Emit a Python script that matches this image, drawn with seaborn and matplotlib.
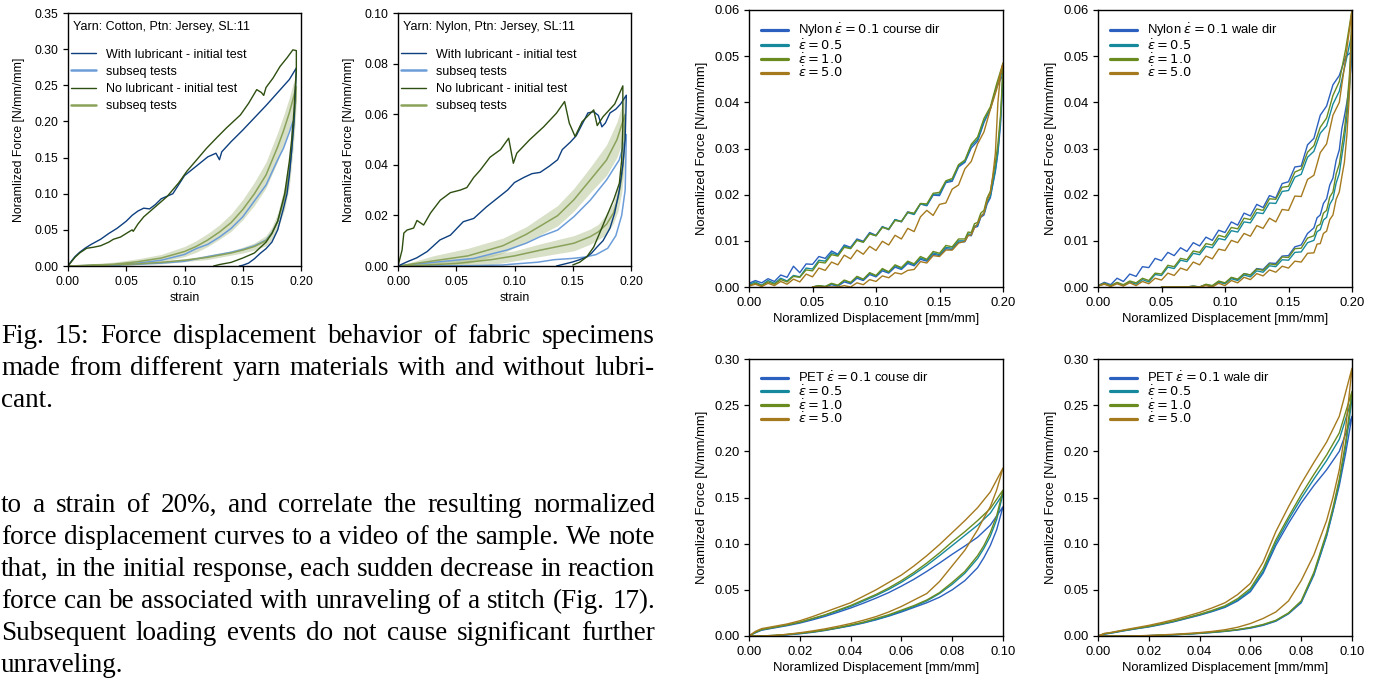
import seaborn as sns
import matplotlib
import matplotlib.pyplot as plt

matplotlib.use('Agg')

# ---------------- data ----------------
# Fig. 15 left: cotton jersey, loops (load then unload)
cot_lub_init_x = [0, .003, .006, .01, .015, .02, .028, .035, .042, .05, .055, .06, .065, .07, .075, .08, .09, .1, .11, .12,
                  .127, .13, .132, .14, .15, .16, .17, .18, .19, .196,
                  .194, .192, .19, .188, .185, .18, .175, .17, .165, .16, .155, .15, .147]
cot_lub_init_y = [0, .007, .013, .019, .025, .03, .037, .045, .052, .062, .07, .076, .08, .079, .085, .093, .1, .125, .138, .151,
                  .156, .147, .158, .172, .188, .205, .222, .24, .258, .274,
                  .2, .16, .125, .1, .08, .05, .033, .024, .0175, .01, .004, .001, 0]
cot_nolube_init_x = [0, .003, .006, .01, .016, .022, .028, .035, .039, .045, .05, .055, .056, .06, .065, .075, .085, .095, .102, .11,
                     .119, .128, .136, .148, .155, .162, .166, .168, .17, .176, .182, .188, .193, .196,
                     .196, .195, .194, .192, .19, .186, .18, .175, .17, .16, .15, .14, .13, .125]
cot_nolube_init_y = [0, .006, .012, .018, .0245, .026, .028, .033, .037, .04, .045, .05, .048, .058, .068, .082, .096, .115, .131, .146,
                     .163, .178, .191, .209, .225, .244, .24, .236, .247, .26, .276, .288, .299, .298,
                     .27, .245, .215, .175, .145, .1, .062, .045, .033, .018, .011, .005, .002, 0]
cot_lub_sub_x = [0, .02, .04, .06, .08, .1, .11, .12, .13, .14, .15, .16, .17, .18, .185, .19, .193,
                 .192, .19, .188, .185, .18, .175, .17, .16, .15, .14, .12, .1, .08, .06, .04, .02, 0]
cot_lub_sub_y = [0, .0005, .0015, .004, .008, .016, .024, .03, .04, .052, .068, .09, .112, .147, .163, .185, .2,
                 .16, .13, .11, .09, .062, .046, .036, .028, .023, .019, .013, .0065, .004, .0025, .0015, .0007, 0]
cot_sub_load_x = [0, .02, .04, .06, .08, .1, .11, .12, .13, .14, .15, .16, .17, .18, .185, .19, .193, .196]
cot_sub_load_y = [0, .001, .0025, .006, .011, .02, .027, .036, .047, .06, .078, .1, .126, .165, .187, .212, .23, .248]
cot_sub_load_sd = [0, .002, .003, .004, .005, .007, .008, .009, .01, .012, .014, .016, .018, .02, .021, .021, .021, .02]
cot_sub_unload_x = [.196, .195, .193, .19, .186, .18, .175, .17, .16, .15, .14, .12, .1, .08, .06, .04, .02, 0]
cot_sub_unload_y = [.248, .22, .18, .13, .095, .062, .045, .035, .027, .022, .018, .012, .008, .005, .003, .0018, .0008, 0]
cot_sub_unload_sd = [.02, .022, .022, .02, .016, .011, .009, .007, .005, .004, .003, .003, .002, .002, .001, .001, .001, 0]

# Fig. 15 middle: nylon jersey
nyl_lub_init_x = [0, .008, .016, .025, .036, .045, .056, .065, .076, .085, .094, .1, .108, .115, .122, .13, .137, .141, .148, .153,
                  .158, .163, .168, .172, .175, .178, .182, .187, .191, .196,
                  .195, .193, .19, .186, .182, .176, .171, .166, .162, .156, .15, .143, .136]
nyl_lub_init_y = [0, .0017, .0032, .0057, .0103, .0122, .0175, .0188, .0234, .0267, .03, .033, .035, .0365, .037, .0395, .042, .046, .049, .0515,
                  .056, .0605, .061, .0595, .055, .0565, .0605, .062, .064, .0675,
                  .05, .04, .03, .021, .015, .01, .0076, .005, .0036, .0025, .0016, .0008, 0]
nyl_nolube_init_x = [0, .0035, .005, .0077, .0134, .0163, .022, .028, .0363, .045, .0534, .0591, .065, .0706, .079, .088, .095, .099, .102, .113,
                     .125, .136, .143, .147, .152, .158, .168, .171, .176, .186, .193,
                     .193, .192, .19, .185, .179, .173, .168, .162, .156, .15]
nyl_nolube_init_y = [0, .0063, .013, .0142, .015, .018, .0162, .021, .026, .029, .03, .031, .035, .0379, .043, .046, .0505, .0406, .0446, .0499,
                     .055, .0604, .065, .0565, .0512, .057, .0617, .0555, .059, .064, .0712,
                     .055, .042, .0327, .026, .0195, .0129, .0075, .0036, .0015, .0004]
nyl_lub_sub_x = [0, .036, .065, .0935, .11, .122, .137, .151, .165, .179, .19, .196,
                 .195, .192, .187, .18, .17, .16, .15, .134, .12, .1, .09, .07, .05, .03, 0]
nyl_lub_sub_y = [0, .0017, .003, .0063, .009, .0116, .0142, .0195, .026, .034, .042, .052,
                 .03, .02, .012, .007, .0045, .0035, .003, .0025, .0015, .0008, .0004, .0002, .0001, 0, 0]
nyl_sub_load_x = [0, .03, .06, .09, .11, .1225, .137, .151, .165, .179, .188, .195]
nyl_sub_load_y = [0, .002, .004, .008, .0125, .0159, .0199, .0262, .034, .0419, .05, .06]
nyl_sub_load_sd = [0, .002, .003, .003, .003, .0035, .004, .0045, .005, .006, .007, .008]
nyl_sub_unload_x = [.195, .194, .192, .189, .185, .179, .172, .165, .151, .1225, .1, .08, .05, .02, 0]
nyl_sub_unload_y = [.06, .045, .035, .027, .021, .0165, .0135, .0116, .009, .0063, .004, .0025, .001, .0003, 0]
nyl_sub_unload_sd = [.008, .007, .006, .005, .004, .004, .003, .003, .003, .0025, .002, .002, .0015, .001, 0]

# rate study, nylon (shared strain grids)
nyl_load_x = [0, .005, .01, .015, .02, .025, .03, .035, .04, .045, .05, .055, .06, .065, .07, .075, .08, .085, .09, .095,
              .1, .105, .11, .115, .12, .125, .13, .135, .14, .145, .15, .155, .16, .165, .17, .175, .18, .185, .19, .195, .2]
nyl_unload_x = [.2, .199, .198, .196, .194, .192, .19, .1875, .185, .1825, .18, .1775, .175, .1725, .17, .165, .16, .155, .15, .145,
                .14, .135, .13, .125, .12, .115, .11, .105, .1, .095, .09, .085, .08, .075, .07, .065, .06, .055, .05]

nc_blue_load = [0.0008, 0.0014, 0.0009, 0.0018, 0.0012, 0.0026, 0.0021, 0.0045, 0.0031, 0.005, 0.0049, 0.0066, 0.0062, 0.0078,
                0.0071, 0.0091, 0.0086, 0.0104, 0.0099, 0.0118, 0.0112, 0.0131, 0.0124, 0.0146, 0.0141, 0.0163, 0.0158, 0.018,
                0.0176, 0.0199, 0.0198, 0.0226, 0.0229, 0.026, 0.027, 0.0301, 0.0316, 0.0356, 0.0386, 0.0433, 0.046]
nc_teal_load = [0.0005, 0.0011, 0.0004, 0.0014, 0.0008, 0.0019, 0.0013, 0.0025, 0.0022, 0.0041, 0.0039, 0.0058, 0.0056, 0.0074,
                0.0069, 0.0089, 0.0084, 0.0102, 0.0097, 0.0116, 0.0111, 0.013, 0.0126, 0.0146, 0.0142, 0.0161, 0.0157, 0.018,
                0.0177, 0.0201, 0.0201, 0.0228, 0.0232, 0.0263, 0.0272, 0.0306, 0.032, 0.0359, 0.0386, 0.0434, 0.047]
nc_olive_load = [0.0003, 0.0008, 0.0003, 0.0011, 0.0006, 0.0016, 0.0011, 0.0023, 0.0021, 0.0037, 0.0035, 0.0054, 0.0052, 0.007,
                 0.0067, 0.0086, 0.0083, 0.0101, 0.0097, 0.0115, 0.0111, 0.0129, 0.0125, 0.0144, 0.0142, 0.0162, 0.016, 0.0181,
                 0.018, 0.0203, 0.0205, 0.023, 0.0235, 0.0265, 0.0275, 0.0309, 0.0325, 0.0365, 0.039, 0.044, 0.0485]
nc_brown_load = [0.0002, 0.0006, 0.0001, 0.0008, 0.0003, 0.0012, 0.0006, 0.0017, 0.0011, 0.0028, 0.0022, 0.0041, 0.0036, 0.0054,
                 0.0048, 0.0069, 0.0061, 0.008, 0.0071, 0.0088, 0.0079, 0.0099, 0.0091, 0.0112, 0.0104, 0.0127, 0.012, 0.0152,
                 0.0166, 0.0155, 0.0179, 0.0182, 0.0212, 0.0221, 0.0256, 0.0272, 0.031, 0.0336, 0.0384, 0.0428, 0.0485]
nc_blue_unload = [0.046, 0.04, 0.035, 0.029, 0.025, 0.0222, 0.0193, 0.018, 0.0156, 0.0151, 0.0131, 0.0129, 0.0111, 0.0112, 0.0098,
                  0.0097, 0.0081, 0.0083, 0.0068, 0.0071, 0.0056, 0.006, 0.0046, 0.0051, 0.0038, 0.0043, 0.003, 0.0035, 0.0022,
                  0.0027, 0.0014, 0.0019, 0.0007, 0.0011, 0.0002, 0.0005, 0.0, 0.0002, 0.0]
nc_teal_unload = [0.047, 0.041, 0.036, 0.0295, 0.0255, 0.0225, 0.0196, 0.0184, 0.0159, 0.0154, 0.0134, 0.0132, 0.0114, 0.0115, 0.01,
                  0.01, 0.0084, 0.0086, 0.007, 0.0074, 0.0058, 0.0063, 0.0048, 0.0054, 0.004, 0.0046, 0.0032, 0.0038, 0.0024,
                  0.003, 0.0016, 0.0022, 0.0009, 0.0014, 0.0003, 0.0007, 0.0001, 0.0003, 0.0]
nc_olive_unload = [0.0485, 0.042, 0.037, 0.031, 0.027, 0.0238, 0.0207, 0.0193, 0.0166, 0.016, 0.014, 0.0137, 0.0118, 0.0119, 0.0104,
                   0.0104, 0.0087, 0.009, 0.0073, 0.0077, 0.006, 0.0066, 0.005, 0.0056, 0.0042, 0.0048, 0.0033, 0.004, 0.0025,
                   0.0031, 0.0017, 0.0023, 0.001, 0.0015, 0.0004, 0.0008, 0.0001, 0.0003, 0.0]
nc_brown_unload = [0.0485, 0.047, 0.046, 0.04, 0.029, 0.0242, 0.0203, 0.0188, 0.016, 0.0152, 0.0137, 0.0128, 0.0113, 0.0111, 0.0099,
                   0.0095, 0.008, 0.008, 0.0066, 0.0068, 0.0052, 0.0055, 0.0038, 0.0036, 0.0028, 0.0031, 0.002, 0.0024, 0.0012,
                   0.0016, 0.0005, 0.0009, 0.0, 0.0003, 0.0, 0.0, 0.0, 0.0, 0.0]

nw_blue_load = [0.0003, 0.001, 0.0005, 0.0019, 0.0012, 0.0028, 0.0023, 0.0044, 0.0042, 0.0062, 0.0057, 0.0075, 0.0068, 0.0085,
                0.0077, 0.0096, 0.0089, 0.0108, 0.0101, 0.0123, 0.0118, 0.0141, 0.0134, 0.016, 0.0154, 0.0179, 0.0172, 0.0198,
                0.0193, 0.0224, 0.0228, 0.026, 0.0262, 0.0308, 0.0322, 0.0372, 0.0392, 0.0438, 0.0458, 0.0499, 0.051]
nw_teal_load = [0.0002, 0.0007, 0.0002, 0.0009, 0.0003, 0.0011, 0.0006, 0.0016, 0.0011, 0.0027, 0.0025, 0.0043, 0.004, 0.0058,
                0.0055, 0.0073, 0.007, 0.0088, 0.0085, 0.0105, 0.0102, 0.0122, 0.0119, 0.0141, 0.0139, 0.0161, 0.0159, 0.0182,
                0.0181, 0.0207, 0.0209, 0.0238, 0.0244, 0.0281, 0.0294, 0.0333, 0.0349, 0.0396, 0.0424, 0.0486, 0.055]
nw_olive_load = [0.0003, 0.0008, 0.0003, 0.001, 0.0005, 0.0013, 0.0009, 0.0019, 0.0014, 0.003, 0.0028, 0.0047, 0.0044, 0.0062,
                 0.0059, 0.0078, 0.0075, 0.0094, 0.0091, 0.0112, 0.0108, 0.0129, 0.0126, 0.0149, 0.0146, 0.0169, 0.0166, 0.0191,
                 0.019, 0.0216, 0.0218, 0.0249, 0.0255, 0.0292, 0.0306, 0.0346, 0.0366, 0.0415, 0.0445, 0.0515, 0.06]
nw_brown_load = [0.0002, 0.0006, 0.0001, 0.0007, 0.0002, 0.0009, 0.0003, 0.0012, 0.0007, 0.0019, 0.0015, 0.003, 0.0025, 0.0041,
                 0.0036, 0.0054, 0.0048, 0.0067, 0.0061, 0.0082, 0.0079, 0.0101, 0.0096, 0.0116, 0.011, 0.0133, 0.0127, 0.0149,
                 0.0141, 0.0168, 0.0166, 0.0197, 0.0196, 0.0233, 0.0242, 0.0291, 0.031, 0.0372, 0.04, 0.0495, 0.06]
nw_blue_unload = [0.051, 0.047, 0.044, 0.04, 0.037, 0.0343, 0.0297, 0.0274, 0.0236, 0.0221, 0.0191, 0.0181, 0.0156, 0.015, 0.0128,
                  0.0116, 0.0091, 0.0087, 0.0068, 0.0067, 0.0051, 0.0052, 0.0038, 0.004, 0.0026, 0.0029, 0.0016, 0.002, 0.0008,
                  0.0011, 0.0002, 0.0005, 0.0, 0.0002, 0.0, 0.0, 0.0, 0.0, 0.0]
nw_teal_unload = [0.055, 0.048, 0.043, 0.037, 0.032, 0.0284, 0.0246, 0.0225, 0.0191, 0.0179, 0.0151, 0.0145, 0.0124, 0.012, 0.0101,
                  0.0096, 0.0076, 0.0075, 0.0058, 0.0059, 0.0044, 0.0046, 0.0032, 0.0035, 0.0022, 0.0026, 0.0014, 0.0018, 0.0007,
                  0.0011, 0.0002, 0.0005, 0.0, 0.0001, 0.0, 0.0, 0.0, 0.0, 0.0]
nw_olive_unload = [0.06, 0.052, 0.046, 0.039, 0.034, 0.0304, 0.0266, 0.0245, 0.0206, 0.0195, 0.0166, 0.016, 0.0136, 0.0132, 0.0111,
                   0.0106, 0.0084, 0.0083, 0.0064, 0.0065, 0.0048, 0.005, 0.0036, 0.0039, 0.0026, 0.0029, 0.0017, 0.0021, 0.0009,
                   0.0013, 0.0003, 0.0006, 0.0, 0.0002, 0.0, 0.0, 0.0, 0.0, 0.0]
nw_brown_unload = [0.06, 0.05, 0.042, 0.033, 0.027, 0.0239, 0.0206, 0.019, 0.0156, 0.0146, 0.0121, 0.0116, 0.0094, 0.0093, 0.0074,
                   0.0073, 0.0054, 0.0056, 0.0041, 0.0045, 0.0032, 0.0037, 0.0024, 0.0029, 0.0016, 0.0021, 0.0009, 0.0014, 0.0003,
                   0.0008, 0.0, 0.0003, 0.0, 0.0, 0.0, 0.0, 0.0, 0.0, 0.0]

# rate study, PET
pet_load_x = [0, .0025, .005, .01, .015, .02, .025, .03, .035, .04, .045, .05, .055, .06, .065, .07, .075, .08, .085, .09, .095, .1]
pet_unload_x = [.1, .0975, .095, .0925, .09, .085, .08, .075, .07, .065, .06, .055, .05, .045, .04, .035, .03, .025, .02, .015, .01, .005, 0]

pc_blue_load = [0, 0.0035, 0.0063, 0.0088, 0.0112, 0.014, 0.0175, 0.0213, 0.0257, 0.0303, 0.0355, 0.041, 0.047, 0.054, 0.0615, 0.07, 0.079, 0.0885, 0.0975, 0.107, 0.12, 0.14]
pc_teal_load = [0, 0.004, 0.0068, 0.0093, 0.0118, 0.0148, 0.0185, 0.0225, 0.0272, 0.032, 0.0378, 0.0438, 0.0505, 0.0582, 0.067, 0.0765, 0.087, 0.098, 0.109, 0.12, 0.133, 0.154]
pc_olive_load = [0, 0.004, 0.007, 0.0095, 0.012, 0.015, 0.019, 0.023, 0.028, 0.033, 0.039, 0.045, 0.052, 0.06, 0.069, 0.079, 0.09, 0.102, 0.113, 0.125, 0.138, 0.158]
pc_brown_load = [0, 0.005, 0.008, 0.0105, 0.013, 0.0165, 0.021, 0.026, 0.031, 0.036, 0.043, 0.05, 0.058, 0.066, 0.076, 0.087, 0.099, 0.112, 0.125, 0.139, 0.156, 0.182]
pc_blue_unload = [0.14, 0.115, 0.098, 0.085, 0.074, 0.06, 0.05, 0.042, 0.036, 0.031, 0.026, 0.0215, 0.0175, 0.014, 0.011, 0.0085, 0.006, 0.004, 0.0024, 0.0012, 0.0003, 0.0, 0.0]
pc_teal_unload = [0.154, 0.126, 0.108, 0.095, 0.084, 0.068, 0.056, 0.046, 0.038, 0.032, 0.027, 0.022, 0.018, 0.0145, 0.0115, 0.0088, 0.0064, 0.0044, 0.0028, 0.0015, 0.0006, 0.0, 0.0]
pc_olive_unload = [0.158, 0.13, 0.112, 0.098, 0.087, 0.07, 0.058, 0.047, 0.039, 0.033, 0.028, 0.023, 0.019, 0.015, 0.012, 0.009, 0.0065, 0.0045, 0.003, 0.0017, 0.0007, 0.0001, 0.0]
pc_brown_unload = [0.182, 0.158, 0.14, 0.128, 0.115, 0.093, 0.076, 0.059, 0.046, 0.039, 0.032, 0.026, 0.021, 0.017, 0.0135, 0.0105, 0.0078, 0.0055, 0.0035, 0.0018, 0.0006, 0.0, 0.0]

pw_blue_load = [0, 0.002, 0.003, 0.0055, 0.0078, 0.0098, 0.0125, 0.0155, 0.019, 0.0225, 0.0265, 0.031, 0.038, 0.048, 0.068, 0.098, 0.122, 0.144, 0.163, 0.18, 0.2, 0.238]
pw_teal_load = [0, 0.0022, 0.0033, 0.0058, 0.008, 0.0102, 0.013, 0.016, 0.0195, 0.023, 0.027, 0.0318, 0.039, 0.0495, 0.07, 0.101, 0.126, 0.149, 0.17, 0.19, 0.213, 0.257]
pw_olive_load = [0, 0.0025, 0.0035, 0.006, 0.0083, 0.0105, 0.0133, 0.0163, 0.0198, 0.0235, 0.0278, 0.0327, 0.0405, 0.0515, 0.073, 0.104, 0.129, 0.153, 0.175, 0.196, 0.22, 0.265]
pw_brown_load = [0, 0.0028, 0.0038, 0.0065, 0.009, 0.0115, 0.0145, 0.0178, 0.0215, 0.0255, 0.0305, 0.036, 0.045, 0.057, 0.08, 0.113, 0.14, 0.165, 0.188, 0.21, 0.238, 0.29]
pw_blue_unload = [0.238, 0.198, 0.163, 0.135, 0.108, 0.066, 0.036, 0.024, 0.016, 0.0115, 0.0085, 0.0065, 0.005, 0.0038, 0.0028, 0.002, 0.0013, 0.0008, 0.0004, 0.0001, 0.0, 0.0, 0.0]
pw_teal_unload = [0.257, 0.205, 0.166, 0.136, 0.109, 0.067, 0.037, 0.0245, 0.0165, 0.012, 0.009, 0.0068, 0.0052, 0.004, 0.003, 0.0021, 0.0014, 0.0008, 0.0004, 0.0001, 0.0, 0.0, 0.0]
pw_olive_unload = [0.265, 0.21, 0.17, 0.139, 0.112, 0.069, 0.038, 0.025, 0.017, 0.0125, 0.0093, 0.007, 0.0054, 0.0042, 0.0031, 0.0022, 0.0015, 0.0009, 0.0004, 0.0001, 0.0, 0.0, 0.0]
pw_brown_unload = [0.29, 0.225, 0.18, 0.15, 0.125, 0.088, 0.06, 0.038, 0.026, 0.019, 0.0135, 0.0095, 0.0068, 0.005, 0.0037, 0.0027, 0.0019, 0.0012, 0.0006, 0.0002, 0.0, 0.0, 0.0]

lube_labels = ['With lubricant - initial test', 'subseq tests', 'No lubricant - initial test', 'subseq tests']
rate_labels = [r'$\dot{\varepsilon} = 0.5$', r'$\dot{\varepsilon} = 1.0$', r'$\dot{\varepsilon} = 5.0$']

caption_lines = ["Fig. 15: Force displacement behavior of fabric specimens",
                 "made from different yarn materials with and without lubri-",
                 "cant."]
body_lines = ["to a strain of 20%, and correlate the resulting normalized",
              "force displacement curves to a video of the sample. We note",
              "that, in the initial response, each sudden decrease in reaction",
              "force can be associated with unraveling of a stitch (Fig. 17).",
              "Subsequent loading events do not cause significant further",
              "unraveling."]

# ---------------- style ----------------
sns.set_theme(style="ticks", rc={
    "axes.linewidth": 1.0, "axes.edgecolor": "black",
    "xtick.major.size": 3.5, "ytick.major.size": 3.5,
    "xtick.major.width": 0.9, "ytick.major.width": 0.9,
    "xtick.color": "black", "ytick.color": "black",
    "axes.labelcolor": "black", "text.color": "black",
})
plt.rcParams['font.family'] = ['Liberation Sans', 'DejaVu Sans']
plt.rcParams['mathtext.fontset'] = 'dejavusans'

C_LUB, C_LUBSUB = '#0d3f7f', '#6c9dd8'
C_DRY, C_DRYSUB, C_BAND = '#2e4f10', '#8aa25a', '#a9bb83'
C_BLUE, C_TEAL, C_OLIVE, C_BROWN = '#2b60bf', '#17899c', '#6a8b1f', '#a57a1e'

W, H = 1379, 683
fig = plt.figure(figsize=(W / 100, H / 100), dpi=100)


def box(left, top, right, bottom):
    return fig.add_axes([left / W, 1 - bottom / H, (right - left) / W, (bottom - top) / H])


def loop(ax, x, y, color, lw=1.0):
    sns.lineplot(x=x, y=y, sort=False, estimator=None, color=color, lw=lw, ax=ax, legend=False)


def band(ax, x, y, sd):
    ax.fill_between(x, [a - b for a, b in zip(y, sd)], [a + b for a, b in zip(y, sd)],
                    color=C_BAND, alpha=0.45, lw=0)


def finish(ax, xmax, xstep, ymax, ystep, xlabel, fs, ypad):
    ax.set_xlim(0, xmax)
    ax.set_ylim(0, ymax)
    n = int(round(xmax / xstep))
    ax.set_xticks([i * xstep for i in range(n + 1)])
    m = int(round(ymax / ystep))
    ax.set_yticks([i * ystep for i in range(m + 1)])
    ax.xaxis.set_major_formatter(matplotlib.ticker.FormatStrFormatter('%.2f'))
    ax.yaxis.set_major_formatter(matplotlib.ticker.FormatStrFormatter('%.2f'))
    ax.tick_params(labelsize=fs)
    ax.set_xlabel(xlabel, fontsize=fs, labelpad=3)
    ax.set_ylabel('Noramlized Force [N/mm/mm]', fontsize=fs, labelpad=ypad)
    for s in ax.spines.values():
        s.set_visible(True)


# ---------------- Fig. 15 panels ----------------
lube_sets = [
    (box(68, 13, 301, 266), 'Yarn: Cotton, Ptn: Jersey, SL:11', 0.35, 0.05,
     cot_lub_init_x, cot_lub_init_y, cot_lub_sub_x, cot_lub_sub_y,
     cot_nolube_init_x, cot_nolube_init_y,
     cot_sub_load_x, cot_sub_load_y, cot_sub_load_sd, cot_sub_unload_x, cot_sub_unload_y, cot_sub_unload_sd),
    (box(398, 13, 631, 266), 'Yarn: Nylon, Ptn: Jersey, SL:11', 0.10, 0.02,
     nyl_lub_init_x, nyl_lub_init_y, nyl_lub_sub_x, nyl_lub_sub_y,
     nyl_nolube_init_x, nyl_nolube_init_y,
     nyl_sub_load_x, nyl_sub_load_y, nyl_sub_load_sd, nyl_sub_unload_x, nyl_sub_unload_y, nyl_sub_unload_sd),
]
for (ax, title, ymax, ystep, lix, liy, lsx, lsy, dix, diy, slx, sly, slsd, sux, suy, susd) in lube_sets:
    band(ax, slx, sly, slsd)
    band(ax, sux, suy, susd)
    loop(ax, lsx, lsy, C_LUBSUB, 1.1)
    loop(ax, slx + sux, sly + suy, C_DRYSUB, 1.1)
    loop(ax, lix, liy, C_LUB, 1.0)
    loop(ax, dix, diy, C_DRY, 1.0)
    finish(ax, 0.2, 0.05, ymax, ystep, 'strain', 8.8, 7)
    ax.text(0.02, 0.946, title, transform=ax.transAxes, fontsize=9, va='center', ha='left')
    handles = [matplotlib.lines.Line2D([], [], color=C_LUB, lw=1.0),
               matplotlib.lines.Line2D([], [], color=C_LUBSUB, lw=1.8),
               matplotlib.lines.Line2D([], [], color=C_DRY, lw=1.0),
               matplotlib.lines.Line2D([], [], color=C_DRYSUB, lw=1.8)]
    ax.legend(handles, lube_labels, loc='upper left', bbox_to_anchor=(0.0, 0.872), frameon=False,
              fontsize=9, handlelength=2.0, handletextpad=0.75, labelspacing=0.42,
              borderaxespad=0.0, borderpad=0.25)

# ---------------- rate panels ----------------
rate_sets = [
    (box(749, 10, 1003, 287), 0.2, 0.05, 0.06, 0.01, nyl_load_x, nyl_unload_x,
     [nc_blue_load, nc_teal_load, nc_olive_load, nc_brown_load],
     [nc_blue_unload, nc_teal_unload, nc_olive_unload, nc_brown_unload],
     r'Nylon $\dot{\varepsilon} = 0.1$ course dir'),
    (box(1098, 10, 1352, 287), 0.2, 0.05, 0.06, 0.01, nyl_load_x, nyl_unload_x,
     [nw_blue_load, nw_teal_load, nw_olive_load, nw_brown_load],
     [nw_blue_unload, nw_teal_unload, nw_olive_unload, nw_brown_unload],
     r'Nylon $\dot{\varepsilon} = 0.1$ wale dir'),
    (box(749, 359, 1003, 636), 0.1, 0.02, 0.30, 0.05, pet_load_x, pet_unload_x,
     [pc_blue_load, pc_teal_load, pc_olive_load, pc_brown_load],
     [pc_blue_unload, pc_teal_unload, pc_olive_unload, pc_brown_unload],
     r'PET $\dot{\varepsilon} = 0.1$ couse dir'),
    (box(1098, 359, 1352, 636), 0.1, 0.02, 0.30, 0.05, pet_load_x, pet_unload_x,
     [pw_blue_load, pw_teal_load, pw_olive_load, pw_brown_load],
     [pw_blue_unload, pw_teal_unload, pw_olive_unload, pw_brown_unload],
     r'PET $\dot{\varepsilon} = 0.1$ wale dir'),
]
for (ax, xmax, xstep, ymax, ystep, lx, ux, loads, unloads, first) in rate_sets:
    colors = [C_BLUE, C_TEAL, C_OLIVE, C_BROWN]
    for yl, yu, c in zip(loads, unloads, colors):
        loop(ax, lx + ux, yl + yu, c, 1.0)
    finish(ax, xmax, xstep, ymax, ystep, 'Noramlized Displacement [mm/mm]', 9.4, 4)
    handles = [matplotlib.lines.Line2D([], [], color=c, lw=2.3) for c in colors]
    ax.legend(handles, [first] + rate_labels, loc='upper left', frameon=False, fontsize=9.4,
              handlelength=2.1, handletextpad=0.75, labelspacing=-0.08,
              borderaxespad=0.45, borderpad=0.45)

# ---------------- page text (justified, Times-like) ----------------
renderer = fig.canvas.get_renderer()
TXT = dict(fontsize=19.5, family='Liberation Serif', va='baseline', ha='left')


def put_line(line, baseline, justify, x0=1, x1=655):
    words = line.split(' ')
    texts = [fig.text(0, 1 - baseline / H, w, **TXT) for w in words]
    widths = [t.get_window_extent(renderer).width for t in texts]
    if justify and len(words) > 1:
        gap = (x1 - x0 - sum(widths)) / (len(words) - 1)
    else:
        gap = 6.5
    x = x0
    for t, w in zip(texts, widths):
        t.set_x(x / W)
        x += w + gap


for i, line in enumerate(caption_lines):
    put_line(line, 343 + 32 * i, justify=(i < len(caption_lines) - 1))
for i, line in enumerate(body_lines):
    put_line(line, 512 + 32 * i, justify=(i < len(body_lines) - 1))

fig.savefig('out.png', dpi=100)
